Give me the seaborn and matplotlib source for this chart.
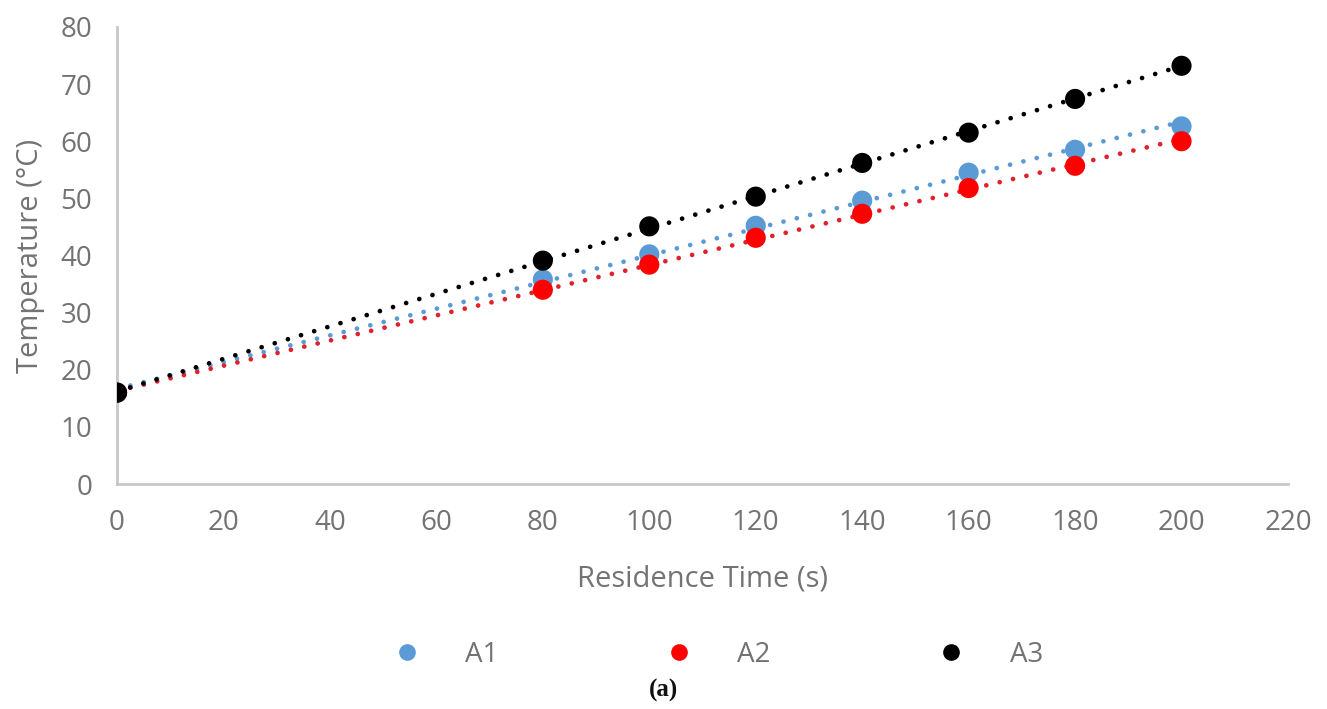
import numpy as np
import pandas as pd
import seaborn as sns
import matplotlib.pyplot as plt
from matplotlib.lines import Line2D

# Residence time (s) and measured outlet temperature (°C) for three runs
time_s = [0, 80, 100, 120, 140, 160, 180, 200]
temp_a1 = [16.0, 35.8, 40.2, 45.2, 49.6, 54.5, 58.5, 62.6]
temp_a2 = [16.0, 34.0, 38.4, 43.1, 47.3, 51.8, 55.7, 60.0]
temp_a3 = [16.0, 39.1, 45.1, 50.3, 56.2, 61.5, 67.4, 73.2]
series_names = ["A1", "A2", "A3"]
x_ticks = list(range(0, 221, 20))
y_ticks = list(range(0, 81, 10))

marker_colors = {"A1": "#5B9BD5", "A2": "#FF0000", "A3": "#000000"}
line_colors = {"A1": "#5B9BD5", "A2": "#E0202A", "A3": "#000000"}
text_color = "#737373"

df = pd.DataFrame({
    "time": time_s * 3,
    "temp": temp_a1 + temp_a2 + temp_a3,
    "run": [n for n in series_names for _ in time_s],
})

sns.set_theme(style="white")
plt.rcParams["font.family"] = ["Open Sans", "DejaVu Sans"]

fig = plt.figure(figsize=(13.27, 7.09), dpi=100)
ax = fig.add_axes([0.0882, 0.3173, 0.8824, 0.6447])

for name in series_names:
    sub = df[df["run"] == name]
    # dotted linear trendline through each run
    sns.regplot(data=sub, x="time", y="temp", ax=ax, ci=None, scatter=False,
                truncate=True,
                line_kws=dict(color=line_colors[name], lw=3.4,
                              linestyle=(0, (0.01, 2.9)),
                              dash_capstyle="round", zorder=2))
for name in series_names:
    sub = df[df["run"] == name]
    sns.scatterplot(data=sub, x="time", y="temp", ax=ax, s=210,
                    color=marker_colors[name], edgecolor="none",
                    zorder=3, legend=False)

ax.set_xlim(0, 220)
ax.set_ylim(0, 80)
ax.set_xticks(x_ticks)
ax.set_yticks(y_ticks)
ax.tick_params(axis="both", length=0, labelsize=20, labelcolor=text_color)
ax.tick_params(axis="x", pad=18)
ax.tick_params(axis="y", pad=18)
ax.set_xlabel("Residence Time (s)", fontsize=21, color=text_color, labelpad=20)
ax.set_ylabel("Temperature (°C)", fontsize=21, color=text_color, labelpad=11)

for side in ["top", "right"]:
    ax.spines[side].set_visible(False)
for side in ["left", "bottom"]:
    ax.spines[side].set_color("#C8C8C8")
    ax.spines[side].set_linewidth(2)
ax.set_facecolor("white")
ax.grid(False)

handles = [Line2D([], [], linestyle="none", marker="o", markersize=12,
                  markerfacecolor=marker_colors[n], markeredgecolor="none")
           for n in series_names]
leg = fig.legend(handles, series_names, loc="center", ncol=3,
                 bbox_to_anchor=(0.541, 0.076), frameon=False, fontsize=20,
                 handlelength=1.0, handletextpad=1.6, columnspacing=6.0)
for t in leg.get_texts():
    t.set_color(text_color)

fig.text(0.5, 0.026, "(a)", ha="center", va="center", fontsize=18,
         fontweight="bold", family=["Liberation Serif", "DejaVu Serif"],
         color="#111111")

fig.savefig("out.png", dpi=100, facecolor="white")
